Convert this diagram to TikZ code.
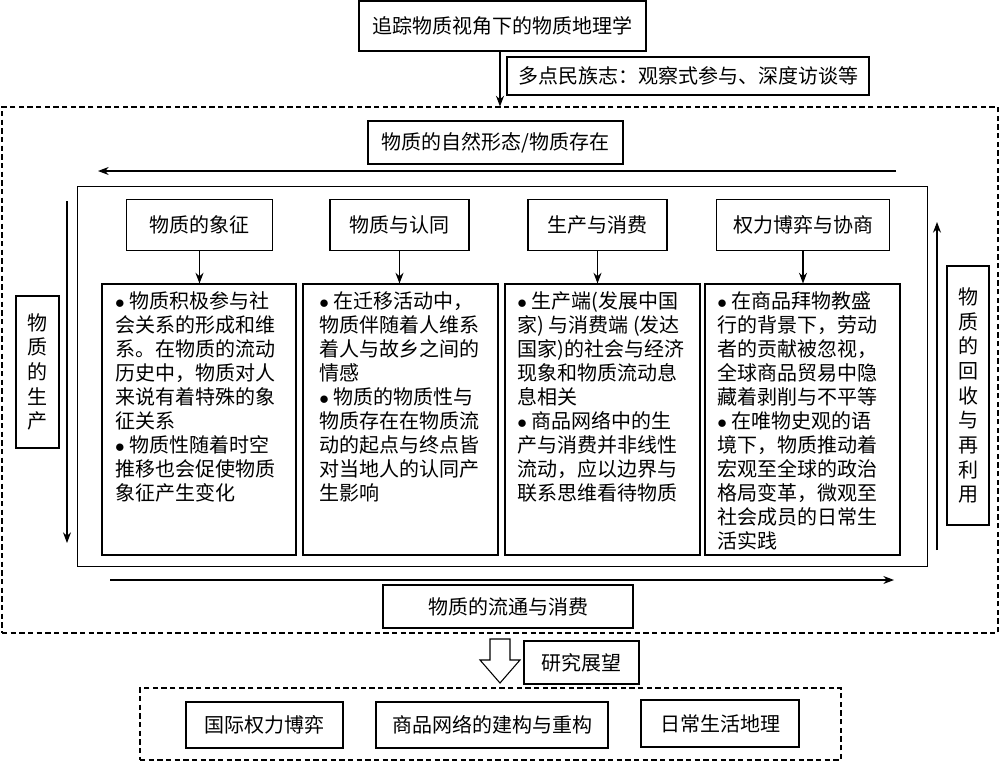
\documentclass[tikz,border=0pt]{standalone}
\usepackage{fontspec}
\setmainfont{Noto Sans CJK SC}
\usetikzlibrary{arrows.meta}
\begin{document}
\begin{tikzpicture}[x=0.75pt,y=-0.75pt,
  sz/.style n args={2}{minimum width={#1*0.75pt}, minimum height={#2*0.75pt}},
  box/.style={draw, line width=0.8pt, inner sep=0pt, font=\fontsize{15pt}{18pt}\selectfont},
  dbox/.style={draw, line width=0.8pt, dash pattern=on 4pt off 2.5pt, inner sep=0pt},
  ctext/.style={anchor=north west, inner sep=0pt, align=left, font=\fontsize{15pt}{18pt}\selectfont},
  vtext/.style={box, align=center, font=\fontsize{15pt}{18.5pt}\selectfont},
  arr/.style={line width=0.8pt, -{Stealth[length=8pt,width=6pt]}}]
\useasboundingbox (0,0) rectangle (1000,761);

% top
\node[box, sz={287}{50}] (top) at (502.5,26) {追踪物质视角下的物质地理学};
\node[box, sz={362}{38}] (meth) at (688,76) {多点民族志：观察式参与、深度访谈等};
\node[dbox, sz={996}{526}] (outer) at (500,370) {};
\draw[arr] (top.south -| outer.north) -- (outer.north);

\node[box, sz={255}{43}] (nat) at (495.5,142.5) {物质的自然形态/物质存在};
\coordinate (ta) at (896,171);
\coordinate (tb) at (98,171);
\draw[arr] (ta) -- (tb);

\node[box, sz={850}{380}] (inner) at (502.5,376.5) {};

% headings
\node[box, sz={146}{51}] (h1) at (199.5,225) {物质的象征};
\node[box, sz={139}{51}] (h2) at (399.5,225) {物质与认同};
\node[box, sz={139}{51}] (h3) at (597.5,225) {生产与消费};
\node[box, sz={173}{51}] (h4) at (803,225) {权力博弈与协商};

% content boxes
\node[box, sz={194}{271}] (c1) at (199,419.5) {};
\node[box, sz={195}{271}] (c2) at (400.5,419.5) {};
\node[box, sz={195}{271}] (c3) at (602.5,419.5) {};
\node[box, sz={195}{271}] (c4) at (802.5,419.5) {};

\draw[arr] (h1.south) -- (h1.south |- c1.north);
\draw[arr] (h2.south) -- (h2.south |- c2.north);
\draw[arr] (h3.south) -- (h3.south |- c3.north);
\draw[arr] (h4.south) -- (h4.south |- c4.north);

\node[ctext] (t1) at ([xshift=10pt,yshift=-6pt]c1.north west) {$\bullet$ 物质积极参与社\\会关系的形成和维\\系。在物质的流动\\历史中，物质对人\\来说有着特殊的象\\征关系\\$\bullet$ 物质性随着时空\\推移也会促使物质\\象征产生变化};
\node[ctext] (t2) at ([xshift=12.5pt,yshift=-6pt]c2.north west) {$\bullet$ 在迁移活动中，\\物质伴随着人维系\\着人与故乡之间的\\情感\\$\bullet$ 物质的物质性与\\物质存在在物质流\\动的起点与终点皆\\对当地人的认同产\\生影响};
\node[ctext] (t3) at ([xshift=9.5pt,yshift=-6pt]c3.north west) {$\bullet$ 生产端(发展中国\\家) 与消费端 (发达\\国家)的社会与经济\\现象和物质流动息\\息相关\\$\bullet$ 商品网络中的生\\产与消费并非线性\\流动，应以边界与\\联系思维看待物质};
\node[ctext] (t4) at ([xshift=9.5pt,yshift=-6pt]c4.north west) {$\bullet$ 在商品拜物教盛\\行的背景下，劳动\\者的贡献被忽视，\\全球商品贸易中隐\\藏着剥削与不平等\\$\bullet$ 在唯物史观的语\\境下，物质推动着\\宏观至全球的政治\\格局变革，微观至\\社会成员的日常生\\活实践};

% sides
\node[vtext, sz={43}{152}] (prod) at (37.5,372) {物\\质\\的\\生\\产};
\coordinate (la) at (67,201);
\coordinate (lb) at (67,543);
\draw[arr] (la) -- (lb);
\node[vtext, sz={42}{259}] (recy) at (968,395.5) {物\\质\\的\\回\\收\\与\\再\\利\\用};
\coordinate (ra) at (937,550);
\coordinate (rb) at (937,222);
\draw[arr] (ra) -- (rb);

% bottom flow
\coordinate (ba) at (110,580);
\coordinate (bb) at (894,580);
\draw[arr] (ba) -- (bb);
\node[box, sz={250}{43}] (flow) at (508,606.5) {物质的流通与消费};

% outlook
\draw[line width=0.8pt] (490,639) -- (510,639) -- (510,660) -- (520,660) -- (500,683) -- (480,660) -- (490,660) -- cycle;
\node[box, sz={115}{43}] (outl) at (581.5,662.5) {研究展望};
\node[dbox, sz={701}{72}] (bot) at (490.5,724) {};
\node[box, sz={157}{46}] (b1) at (264.5,725) {国际权力博弈};
\node[box, sz={232}{46}] (b2) at (492,725) {商品网络的建构与重构};
\node[box, sz={158}{47}] (b3) at (720,723.5) {日常生活地理};
\end{tikzpicture}
\end{document}
